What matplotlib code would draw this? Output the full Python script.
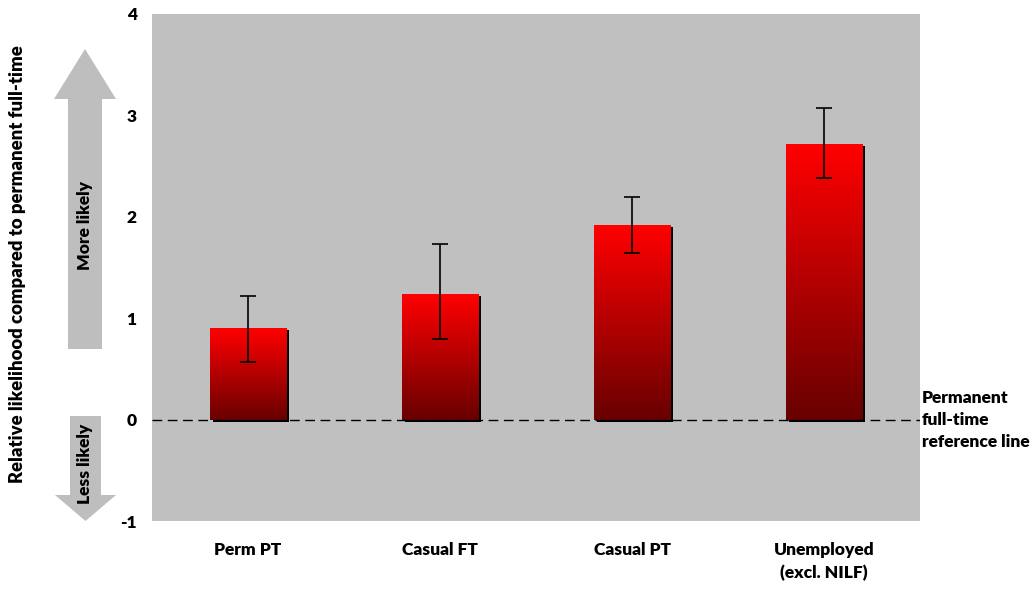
import numpy as np
import matplotlib
matplotlib.use("Agg")
import matplotlib.pyplot as plt
from matplotlib.colors import LinearSegmentedColormap
from matplotlib.patches import Polygon
from matplotlib.transforms import ScaledTranslation

categories = ["Perm PT", "Casual FT", "Casual PT", "Unemployed\n(excl. NILF)"]
values = [0.90, 1.24, 1.92, 2.72]
err_low = [0.57, 0.79, 1.64, 2.38]
err_high = [1.22, 1.73, 2.20, 3.07]
yticks = [-1, 0, 1, 2, 3, 4]

plt.rcParams['font.family'] = ['Lato', 'DejaVu Sans']
WEIGHT = "heavy"

W, H = 1032, 590
fig = plt.figure(figsize=(W / 100, H / 100), dpi=100)
ax = fig.add_axes([152 / W, 1 - 521 / H, 768 / W, 507 / H])
ax.set_facecolor("#C0C0C0")
for s in ax.spines.values():
    s.set_visible(False)

x = np.arange(len(categories)) + 0.5
width = 0.4

# shadows
shadow_tr = ax.transData + ScaledTranslation(3 / 100, -2 / 100, fig.dpi_scale_trans)
ax.bar(x, values, width, color="black", transform=shadow_tr, zorder=2)

cmap = LinearSegmentedColormap.from_list("rg", ["#680000", "#FF0000"])
grad = np.linspace(0, 1, 256).reshape(-1, 1)
bars = ax.bar(x, values, width, color="none", zorder=3)
for b, xc, v in zip(bars, x, values):
    im = ax.imshow(grad, cmap=cmap, origin="lower", aspect="auto",
                   extent=[xc - width / 2, xc + width / 2, 0, v], zorder=3)
    im.set_clip_path(b)

ax.set_xlim(0, 4)
ax.set_ylim(-1, 4)

yerr = [np.array(values) - np.array(err_low), np.array(err_high) - np.array(values)]
ax.errorbar(x, values, yerr=yerr, fmt="none", ecolor="black", elinewidth=1.2,
            capsize=6, capthick=1.2, zorder=4)

ax.axhline(0, color="black", linestyle=(0, (7, 4)), linewidth=1, zorder=5)

ax.set_xticks(x)
ax.set_xticklabels(categories, fontsize=12.5, fontweight=WEIGHT, linespacing=1.55)
ax.set_yticks(yticks)
ax.set_yticklabels([str(t) for t in yticks], fontsize=12.5, fontweight=WEIGHT)
ax.tick_params(axis="both", length=0)
ax.tick_params(axis="y", pad=11)
ax.tick_params(axis="x", pad=15)

# right label
fig.text(922 / W, 1 - 420 / H, "Permanent\nfull-time\nreference line", ha="left",
         va="center", fontsize=12.5, fontweight=WEIGHT, linespacing=1.45)

# y label
fig.text(18 / W, 1 - 264 / H, "Relative likelihood compared to permanent full-time",
         rotation=90, ha="center", va="center", fontsize=13.3, fontweight=WEIGHT)

# arrows (pixel coordinates converted to figure fraction)
def px(pts):
    return [(a / W, 1 - b / H) for a, b in pts]

up = px([(68, 349), (68, 99), (54, 99), (85, 49), (116, 99), (102, 99), (102, 349)])
down = px([(70, 416), (70, 495), (55, 495), (85.5, 521), (116, 495), (101, 495), (101, 416)])
arrow_col = "#BEBEBE"
fig.patches.append(Polygon(up, closed=True, transform=fig.transFigure, facecolor=arrow_col,
                           edgecolor="none", figure=fig))
fig.patches.append(Polygon(down, closed=True, transform=fig.transFigure, facecolor=arrow_col,
                           edgecolor="none", figure=fig))
fig.text(85 / W, 1 - 226 / H, "More likely", rotation=90, ha="center", va="center",
         fontsize=12.5, fontweight=WEIGHT)
fig.text(85 / W, 1 - 464 / H, "Less likely", rotation=90, ha="center", va="center",
         fontsize=12.5, fontweight=WEIGHT)

fig.savefig("out.png", dpi=100)
